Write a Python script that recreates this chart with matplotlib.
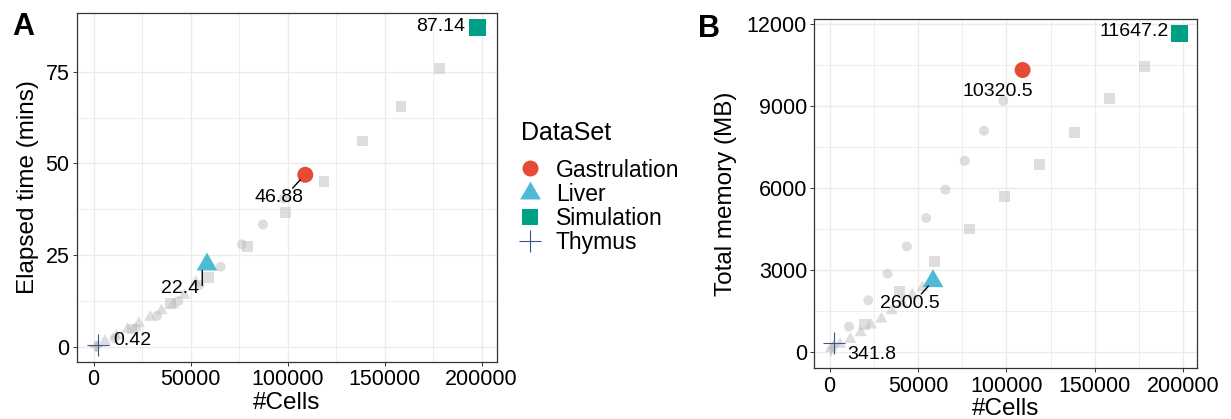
import matplotlib
matplotlib.use("Agg")
import matplotlib.pyplot as plt
from matplotlib.lines import Line2D
from matplotlib.transforms import offset_copy
import numpy as np

plt.rcParams['font.family'] = ['Liberation Sans', 'DejaVu Sans']

# ---------------- data ----------------
datasets = ["Gastrulation", "Liver", "Simulation", "Thymus"]
colors = {"Gastrulation": "#E64B35", "Liver": "#4DBBD5",
          "Simulation": "#00A087", "Thymus": "#3C5488"}

gastrulation_cells = [10914, 21828, 32741, 43655, 54569, 65483, 76397, 87310, 98224, 109138]
gastrulation_time = [2.3, 5.0, 8.4, 12.4, 16.8, 21.8, 27.9, 33.3, 40.5, 46.88]
gastrulation_mem = [938, 1900, 2874, 3873, 4909, 5944, 7003, 8100, 9196, 10320.5]

liver_cells = [5845, 11690, 17534, 23379, 29224, 35069, 40914, 46758, 52603, 58448]
liver_time = [1.5, 3.0, 4.7, 6.3, 8.0, 9.8, 11.4, 14.0, 17.5, 22.4]
liver_mem = [290, 475, 718, 999, 1218, 1522, 1800, 2090, 2370, 2600.5]

simulation_cells = [19800, 39600, 59400, 79200, 99000, 118800, 138600, 158400, 178200, 198000]
simulation_time = [4.8, 11.7, 18.9, 27.3, 36.6, 45.1, 56.1, 65.5, 75.9, 87.14]
simulation_mem = [1023, 2229, 3325, 4507, 5700, 6870, 8039, 9281, 10450, 11647.2]

thymus_cells = [250, 500, 750, 1000, 1250, 1500, 1750, 2000, 2250, 2500]
thymus_time = [0.05, 0.08, 0.12, 0.16, 0.20, 0.24, 0.28, 0.32, 0.37, 0.42]
thymus_mem = [60, 90, 120, 150, 180, 210, 240, 270, 305, 341.8]

cells = {"Gastrulation": gastrulation_cells, "Liver": liver_cells,
         "Simulation": simulation_cells, "Thymus": thymus_cells}
times = {"Gastrulation": gastrulation_time, "Liver": liver_time,
         "Simulation": simulation_time, "Thymus": thymus_time}
mems = {"Gastrulation": gastrulation_mem, "Liver": liver_mem,
        "Simulation": simulation_mem, "Thymus": thymus_mem}

x_ticks = [0, 50000, 100000, 150000, 200000]
time_ticks = [0, 25, 50, 75]
mem_ticks = [0, 3000, 6000, 9000, 12000]

# ---------------- styling ----------------
tri = [(0, 0.577), (-0.5, -0.289), (0.5, -0.289)]
markers = {"Gastrulation": 'o', "Liver": tri, "Simulation": 's', "Thymus": '+'}
big_size = {"Gastrulation": 132, "Liver": 296, "Simulation": 144, "Thymus": 266}
small_size = {"Gastrulation": 52, "Liver": 105, "Simulation": 59, "Thymus": 60}

W, H = 1231, 419
fig = plt.figure(figsize=(W / 100, H / 100), dpi=100)

def px_axes(l, t, r, b):
    return fig.add_axes([l / W, (H - b) / H, (r - l) / W, (b - t) / H])

axA = px_axes(76.7, 12.7, 496.7, 362.0)
axB = px_axes(814.3, 19.0, 1197.0, 368.3)

def style(ax, yticks, ylim, ylabel, ylabelpad):
    ax.set_xlim(-8700, 207800)
    ax.set_ylim(*ylim)
    ax.set_xticks(x_ticks)
    ax.set_xticklabels([str(v) for v in x_ticks])
    ax.set_yticks(yticks)
    ax.set_yticklabels([str(v) for v in yticks])
    xminor = [(a + b) / 2 for a, b in zip(x_ticks[:-1], x_ticks[1:])]
    yminor = [(a + b) / 2 for a, b in zip(yticks[:-1], yticks[1:])]
    ax.set_xticks(xminor, minor=True)
    ax.set_yticks(yminor, minor=True)
    ax.grid(which='major', color='#EBEBEB', linewidth=1.0, zorder=0)
    ax.grid(which='minor', color='#EBEBEB', linewidth=0.6, zorder=0)
    ax.set_axisbelow(True)
    ax.tick_params(which='minor', length=0)
    ax.tick_params(which='major', length=3.2, width=0.7, color='#333333',
                   labelsize=15.5, labelcolor='black')
    ax.tick_params(axis='x', pad=2)
    ax.tick_params(axis='y', pad=2)
    for s in ax.spines.values():
        s.set_color('#333333')
        s.set_linewidth(0.9)
    ax.set_xlabel("#Cells", fontsize=17.5, labelpad=1)
    ax.set_ylabel(ylabel, fontsize=17.5, labelpad=ylabelpad)

style(axA, time_ticks, (-4.2, 91.1), "Elapsed time (mins)", 5)
style(axB, mem_ticks, (-585, 12185), "Total memory (MB)", 7)

gray = '#BEBEBE'
for ax, yvals in ((axA, times), (axB, mems)):
    for d in datasets:
        xs = cells[d][:-1]
        ys = yvals[d][:-1]
        if d == "Thymus":
            ax.scatter(xs, ys, marker='+', s=small_size[d], c=gray, alpha=0.5,
                       linewidths=1.0, zorder=2)
        else:
            ax.scatter(xs, ys, marker=markers[d], s=small_size[d], c=gray, alpha=0.5,
                       edgecolors='none', zorder=2)
    for d in datasets:
        x = cells[d][-1]
        y = yvals[d][-1]
        if d == "Thymus":
            ax.scatter([x], [y], marker='+', s=big_size[d], c=colors[d],
                       linewidths=0.8, zorder=4)
        else:
            ax.scatter([x], [y], marker=markers[d], s=big_size[d], c=colors[d],
                       edgecolors='none', zorder=4)

def fmt(v):
    return ('%g' % v)

def label(ax, d, yvals, dx, dy, ha, seg=None):
    x = cells[d][-1]
    y = yvals[d][-1]
    ax.annotate(fmt(y), xy=(x, y), xytext=(dx, dy), textcoords='offset points',
                ha=ha, va='center', fontsize=14, color='black', zorder=5)
    if seg is not None:
        (x1, y1), (x2, y2) = seg
        t1 = offset_copy(ax.transData, fig=fig, x=x1, y=y1, units='points')
        t2 = offset_copy(ax.transData, fig=fig, x=x2, y=y2, units='points')
        ax.annotate('', xy=(x, y), xycoords=t1, xytext=(x, y), textcoords=t2,
                    arrowprops=dict(arrowstyle='-', lw=1.0, color='black',
                                    shrinkA=0, shrinkB=0), zorder=5)

# Panel A labels
label(axA, "Simulation", times, -8.9, 0.2, 'right')
label(axA, "Gastrulation", times, -18.7, -16.6, 'center',
      seg=((-3.6, -3.6), (-9.1, -9.6)))
label(axA, "Liver", times, -19.4, -17.0, 'center',
      seg=((-3.4, -4.3), (-3.4, -15.1)))
label(axA, "Thymus", times, 10.8, 3.1, 'left')

# Panel B labels
label(axB, "Simulation", mems, -7.9, 1.9, 'right')
label(axB, "Gastrulation", mems, -17.6, -15.3, 'center')
label(axB, "Liver", mems, -16.8, -16.4, 'center',
      seg=((-3.3, -3.5), (-8.4, -9.2)))
label(axB, "Thymus", mems, 9.4, -8.6, 'left')

# Legend
handles = []
for d in datasets:
    if d == "Thymus":
        h = Line2D([], [], marker='+', linestyle='', color=colors[d],
                   markersize=16, markeredgewidth=0.8)
    else:
        ms = {"Gastrulation": 11.5, "Liver": 17.2, "Simulation": 12}[d]
        h = Line2D([], [], marker=markers[d], linestyle='', color=colors[d],
                   markersize=ms, markeredgewidth=0)
    handles.append(h)
fig.text(521 / W, (H - 133) / H, "DataSet", fontsize=18, ha='left', va='center')
leg = fig.legend(handles, datasets, loc='upper left',
                 bbox_to_anchor=(519 / W, (H - 158.5) / H),
                 frameon=False, fontsize=16.5,
                 borderpad=0, borderaxespad=0,
                 handlelength=1.0, handletextpad=0.6, labelspacing=0.05)

# Panel tags
fig.text(12 / W, (H - 12) / H, "A", fontsize=22, fontweight='bold', ha='left', va='top')
fig.text(698 / W, (H - 14) / H, "B", fontsize=22, fontweight='bold', ha='left', va='top')

fig.savefig("out.png", dpi=100)
